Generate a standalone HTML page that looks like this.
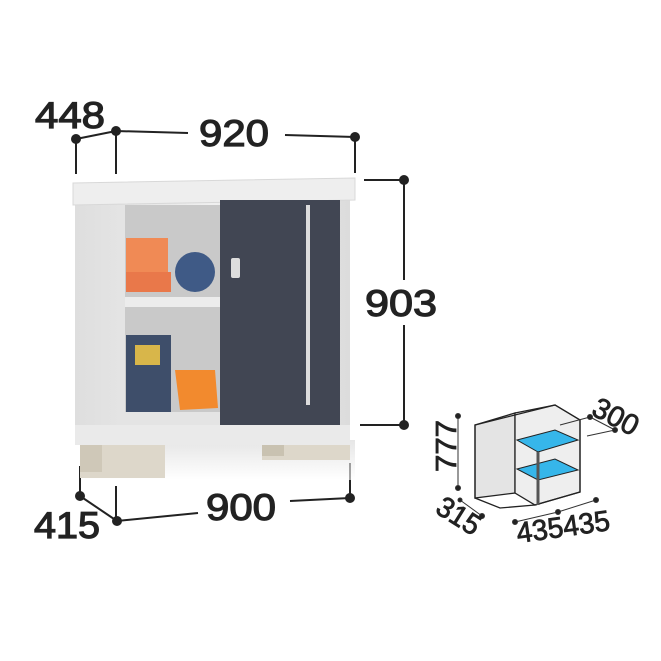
<!DOCTYPE html><html><head><style>body{margin:0;background:#fff}svg{display:block}text{font-family:"Liberation Sans",sans-serif;fill:#222}</style></head><body>
<svg width="661" height="661" viewBox="0 0 661 661">
<defs>
<linearGradient id="gb" x1="0" x2="1"><stop offset="0" stop-color="#dedede"/><stop offset="0.5" stop-color="#f0f0f0"/><stop offset="1" stop-color="#dcdcdc"/></linearGradient>
<linearGradient id="sh" x1="0" y1="0" x2="0" y2="1"><stop offset="0" stop-color="#d5d5d5"/><stop offset="1" stop-color="#fff"/></linearGradient>
</defs>
<g stroke="#222" stroke-width="2" fill="none">
<line x1="76" y1="139" x2="116" y2="131"/><line x1="116" y1="131" x2="188" y2="133"/><line x1="285" y1="135" x2="355" y2="137"/>
<line x1="76" y1="139" x2="76" y2="174"/><line x1="116" y1="131" x2="116" y2="174"/><line x1="355" y1="137" x2="355" y2="173"/>
<line x1="364" y1="180" x2="404" y2="180"/><line x1="404" y1="180" x2="404" y2="280"/><line x1="404" y1="325" x2="404" y2="425"/><line x1="360" y1="425" x2="404" y2="425"/>
<line x1="80" y1="466" x2="80" y2="496"/><line x1="80" y1="496" x2="117" y2="521"/><line x1="116" y1="486" x2="116" y2="521"/><line x1="117" y1="521" x2="198" y2="513"/><line x1="290" y1="501" x2="350" y2="498"/><line x1="350" y1="463" x2="350" y2="498"/>
</g>
<g fill="#222"><circle cx="76" cy="139" r="5"/><circle cx="116" cy="131" r="5"/><circle cx="355" cy="137" r="5"/><circle cx="404" cy="180" r="5"/><circle cx="404" cy="425" r="5"/><circle cx="80" cy="496" r="5"/><circle cx="117" cy="521" r="5"/><circle cx="350" cy="498" r="5"/></g>
<g font-size="37" stroke="#222" stroke-width="1.2">
<text x="35" y="128" textLength="70" lengthAdjust="spacingAndGlyphs">448</text><text x="199" y="146" textLength="70" lengthAdjust="spacingAndGlyphs">920</text><text x="365" y="316" textLength="72" lengthAdjust="spacingAndGlyphs">903</text><text x="206" y="520" textLength="70" lengthAdjust="spacingAndGlyphs">900</text><text x="34" y="538" textLength="66" lengthAdjust="spacingAndGlyphs">415</text>
</g>
<!-- cabinet -->
<rect x="85" y="440" width="270" height="40" fill="url(#sh)" opacity="0.6"/>
<rect x="80" y="432" width="85" height="46" fill="#ddd7ca"/><rect x="80" y="432" width="22" height="40" fill="#cfc8b8"/>
<rect x="262" y="430" width="88" height="30" fill="#ddd7ca"/><rect x="262" y="430" width="22" height="26" fill="#c9c2b1"/>
<rect x="75" y="195" width="275" height="245" fill="url(#gb)"/>
<path d="M73 183 L355 178 L355 200 L73 205 Z" fill="#eeeeee" stroke="#d8d8d8"/>
<rect x="125" y="205" width="100" height="220" fill="#c9c9c9"/>
<rect x="125" y="297" width="95" height="10" fill="#ececec"/>
<rect x="126" y="238" width="42" height="34" fill="#f08a55"/><rect x="126" y="272" width="45" height="20" fill="#e9784a"/>
<circle cx="195" cy="272" r="20" fill="#3f5a86"/>
<rect x="126" y="335" width="45" height="78" fill="#3e4e6a"/><rect x="135" y="345" width="25" height="20" fill="#d8b64a"/>
<path d="M175 370 L215 370 L218 408 L180 410 Z" fill="#f28a2e"/>
<rect x="125" y="412" width="100" height="14" fill="#e4e4e4"/>
<rect x="220" y="200" width="120" height="228" fill="#414653"/>
<rect x="306" y="205" width="4" height="200" fill="#dcdcdc"/>
<rect x="231" y="258" width="9" height="20" rx="2" fill="#ddd"/>
<rect x="75" y="425" width="275" height="20" fill="#eaeaea"/>
<!-- small diagram -->
<g stroke="#222" stroke-width="1.3" fill="none">
<path d="M475 425 L515 413 L515 493 L475 498 Z" fill="#e4e4e4"/>
<path d="M515 413 L555 405 L580 420 L580 492 L535 505 L515 493 Z" fill="#eeeeee"/>
<path d="M475 425 L555 405 L580 420 L580 492 L535 505 L500 508 L475 498 Z"/>
</g>
<path d="M517 440 L555 430 L578 440 L538 452 Z" fill="#36b6ea" stroke="#222"/>
<path d="M517 469 L555 459 L578 470 L538 480 Z" fill="#36b6ea" stroke="#222"/>
<line x1="538" y1="452" x2="538" y2="505" stroke="#555" stroke-width="3"/>
<g stroke="#333" stroke-width="1" fill="#222">
<line x1="458" y1="416" x2="458" y2="488"/><circle cx="458" cy="416" r="2.5"/><circle cx="458" cy="488" r="2.5"/>
<line x1="560" y1="425" x2="590" y2="417"/><line x1="587" y1="436" x2="615" y2="430"/><line x1="590" y1="417" x2="615" y2="430"/><circle cx="590" cy="417" r="2.5"/><circle cx="615" cy="430" r="2.5"/>
<line x1="460" y1="500" x2="482" y2="516"/><circle cx="482" cy="516" r="2.5"/><circle cx="460" cy="500" r="2"/>
<line x1="515" y1="522" x2="558" y2="512"/><line x1="558" y1="512" x2="596" y2="500"/><circle cx="515" cy="522" r="2.5"/><circle cx="558" cy="512" r="2.5"/><circle cx="596" cy="500" r="2.5"/>
</g>
<g font-size="29" stroke="#222" stroke-width="0.8">
<text transform="translate(456,472) rotate(-90)" textLength="52" lengthAdjust="spacingAndGlyphs">777</text>
<text transform="translate(590,414) rotate(28)" textLength="48" lengthAdjust="spacingAndGlyphs">300</text>
<text transform="translate(434,512) rotate(32)" textLength="46" lengthAdjust="spacingAndGlyphs">315</text>
<text transform="translate(518,543) rotate(-8)" textLength="94" lengthAdjust="spacingAndGlyphs">435435</text>
</g>
</svg></body></html>
